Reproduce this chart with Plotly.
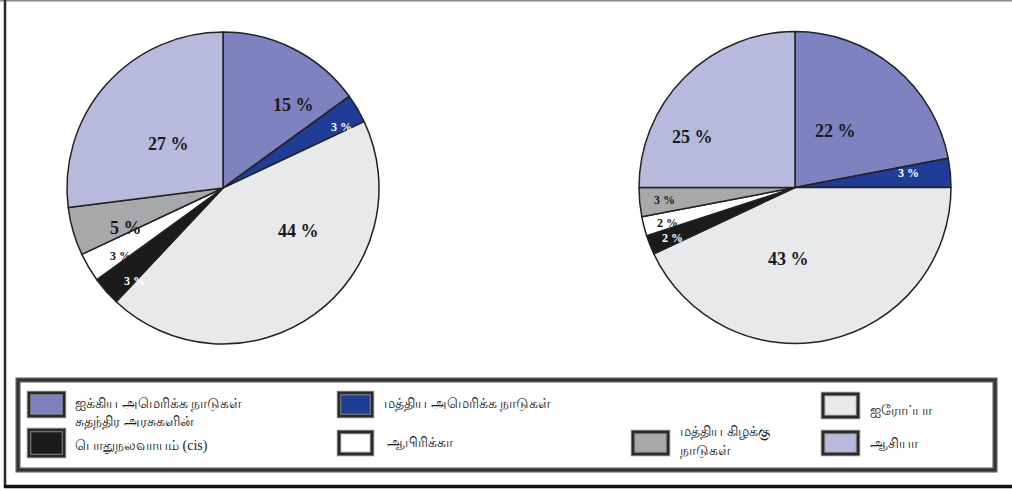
import math
import plotly.graph_objects as go

# ---- data ----
regions = ["ஐக்கிய அமெரிக்க நாடுகள்", "மத்திய அமெரிக்க நாடுகள்", "ஐரோப்பா",
           "சுதந்திர அரசுகளின்<br>பொதுநலவாயம் (cis)", "ஆபிரிக்கா",
           "மத்திய கிழக்கு<br>நாடுகள்", "ஆசியா"]
left_values = [15, 3, 44, 3, 3, 5, 27]
right_values = [22, 3, 43, 2, 2, 3, 25]

# ---- style ----
colors = ["#7f82c0", "#1f3d97", "#e8e9ea", "#1c1a1b", "#ffffff", "#a7a8aa", "#b8badd"]
label_colors = ["#1a1a1a", "#ffffff", "#1a1a1a", "#ffffff", "#1a1a1a", "#1a1a1a", "#1a1a1a"]
W, H = 1012, 491

def px(x):
    return x / W

def py(y):
    return 1 - y / H

pies = [
    dict(values=left_values, cx=223, cy=188, r=156,
         rfrac=[0.68, 0.88, 0.44, 0.88, 0.86, 0.78, 0.61],
         dang=[0, 0, -15, -1, 0, -3, -5]),
    dict(values=right_values, cx=795, cy=187.5, r=156,
         rfrac=[0.60, 0.81, 0.47, 0.85, 0.85, 0.84, 0.65],
         dang=[3, -1, 0, -1, -1, 0, -7]),
]

fig = go.Figure()
annotations = []
shapes = []

for p in pies:
    cx, cy, r = p["cx"], p["cy"], p["r"]
    fig.add_trace(go.Pie(
        labels=regions, values=p["values"], sort=False, direction="clockwise",
        rotation=0, textinfo="none", hoverinfo="label+percent",
        marker=dict(colors=colors, line=dict(color="#222222", width=1.5)),
        domain=dict(x=[px(cx - r), px(cx + r)], y=[py(cy + r), py(cy - r)]),
        showlegend=False,
    ))
    total = sum(p["values"])
    cum = 0
    for i, v in enumerate(p["values"]):
        mid = (cum + v / 2) / total * 360 + p["dang"][i]
        cum += v
        rr = r * p["rfrac"][i]
        x = cx + rr * math.sin(math.radians(mid))
        y = cy - rr * math.cos(math.radians(mid))
        size = 18 if v >= 5 else 12
        annotations.append(dict(
            x=px(x), y=py(y), xref="paper", yref="paper", showarrow=False,
            text="<b>%d %%</b>" % v,
            font=dict(family="Liberation Serif, Times New Roman, serif", size=size,
                      color=label_colors[i]),
        ))

# ---- outer frame ----
shapes.append(dict(type="line", xref="paper", yref="paper", x0=0, x1=1, y0=py(0.7), y1=py(0.7),
                   line=dict(color="#8a8a8a", width=1.5)))
shapes.append(dict(type="line", xref="paper", yref="paper", x0=px(5), x1=px(5), y0=py(0), y1=py(488),
                   line=dict(color="#2a2a2a", width=2.5)))
shapes.append(dict(type="line", xref="paper", yref="paper", x0=px(4), x1=1, y0=py(486.5), y1=py(486.5),
                   line=dict(color="#111111", width=3.5)))

# ---- legend box ----
shapes.append(dict(type="rect", xref="paper", yref="paper", x0=px(18), x1=px(995), y0=py(470), y1=py(380),
                   line=dict(color="#555555", width=5)))
shapes.append(dict(type="rect", xref="paper", yref="paper", x0=px(18), x1=px(995), y0=py(470), y1=py(380),
                   line=dict(color="#333333", width=2)))

# legend entries: swatch box (x0, y0, x1, y1), text x, first-line y, line gap
legend_boxes = [
    (29, 393, 64, 416, 73, 404, 0),
    (339, 393, 372, 416, 382, 404, 0),
    (823, 394, 858, 417, 868, 410, 0),
    (29, 430, 64, 456, 73, 422, 24),
    (339, 432, 372, 454, 385, 442, 0),
    (633, 432, 668, 454, 678, 432, 19),
    (823, 432, 858, 454, 868, 443, 0),
]
for i, (x0, y0, x1, y1, tx, ty, gap) in enumerate(legend_boxes):
    shapes.append(dict(type="rect", xref="paper", yref="paper", x0=px(x0), x1=px(x1), y0=py(y1), y1=py(y0),
                       fillcolor=colors[i], line=dict(color="#8a8a8a", width=4.5)))
    shapes.append(dict(type="rect", xref="paper", yref="paper", x0=px(x0), x1=px(x1), y0=py(y1), y1=py(y0),
                       line=dict(color="#2a2a2a", width=2.5)))
    for k, line in enumerate(regions[i].split("<br>")):
        annotations.append(dict(
            x=px(tx), y=py(ty + k * gap), xref="paper", yref="paper", showarrow=False,
            xanchor="left", yanchor="middle", align="left",
            text=line,
            font=dict(family="Liberation Serif, Noto Sans, serif", size=14, color="#1a1a1a"),
        ))

fig.update_layout(
    width=W, height=H,
    margin=dict(l=0, r=0, t=0, b=0),
    paper_bgcolor="#ffffff", plot_bgcolor="#ffffff",
    shapes=shapes, annotations=annotations,
    showlegend=False,
)

fig.write_html("out.html", config={"displayModeBar": False},
               post_script="document.body.style.margin='0';document.body.style.padding='0';")
